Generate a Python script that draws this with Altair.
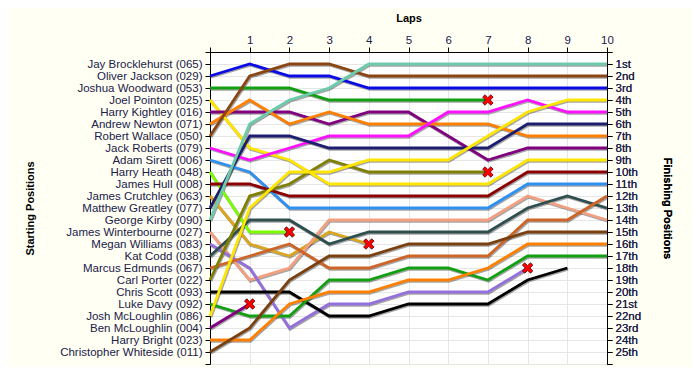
import json
import altair as alt
import pandas as pd

laps = list(range(11))

start_names = [
    "Jay Brocklehurst (065)", "Oliver Jackson (029)", "Joshua Woodward (053)",
    "Joel Pointon (025)", "Harry Kightley (016)", "Andrew Newton (071)",
    "Robert Wallace (050)", "Jack Roberts (079)", "Adam Sirett (006)",
    "Harry Heath (048)", "James Hull (008)", "James Crutchley (063)",
    "Matthew Greatley (077)", "George Kirby (090)", "James Winterbourne (027)",
    "Megan Williams (083)", "Kat Codd (038)", "Marcus Edmunds (067)",
    "Carl Porter (022)", "Chris Scott (093)", "Luke Davy (092)",
    "Josh McLoughlin (086)", "Ben McLoughlin (004)", "Harry Bright (023)",
    "Christopher Whiteside (011)",
]

finish_labels = [
    "1st", "2nd", "3rd", "4th", "5th", "6th", "7th", "8th", "9th", "10th",
    "11th", "12th", "13th", "14th", "15th", "16th", "17th", "18th", "19th",
    "20th", "21st", "22nd", "23rd", "24th", "25th",
]

# Position per lap (lap 0 = grid), one list per driver line
line_s02 = [2, 1, 2, 2, 3, 3, 3, 3, 3, 3, 3]
line_s03 = [3, 3, 3, 4, 4, 4, 4, 4]
line_s04 = [4, 8, 9, 11, 11, 11, 11, 11, 9, 9, 9]
line_s05 = [5, 5, 5, 6, 5, 5, 7, 9, 8, 8, 8]
line_s06 = [6, 4, 6, 5, 6, 6, 6, 6, 7, 7, 7]
line_s07 = [7, 2, 1, 1, 2, 2, 2, 2, 2, 2, 2]
line_s08 = [8, 9, 8, 7, 7, 7, 5, 5, 4, 5, 5]
line_s09 = [9, 10, 13, 13, 13, 13, 13, 13, 11, 11, 11]
line_s10 = [10, 15, 15]
line_s11 = [11, 11, 12, 12, 12, 12, 12, 12, 10, 10, 10]
line_s12 = [12, 16, 17, 15, 16]
line_s13 = [13, 7, 7, 8, 8, 8, 8, 8, 6, 6, 6]
line_s14 = [14, 6, 4, 3, 1, 1, 1, 1, 1, 1, 1]
line_s15 = [15, 19, 18, 14, 14, 14, 14, 14, 12, 13, 14]
line_s16 = [16, 18, 23, 21, 21, 20, 20, 20, 18]
line_s17 = [17, 14, 14, 16, 15, 15, 15, 15, 13, 12, 13]
line_s18 = [18, 17, 16, 18, 18, 17, 17, 17, 14, 14, 12]
line_s19 = [19, 12, 11, 9, 10, 10, 10, 10]
line_s20 = [20, 20, 20, 22, 22, 21, 21, 21, 19, 18]
line_s21 = [21, 22, 22, 19, 19, 18, 18, 19, 17, 17, 17]
line_s22 = [22, 13, 10, 10, 9, 9, 9, 7, 5, 4, 4]
line_s23 = [23, 21]
line_s24 = [24, 24, 21, 20, 20, 19, 19, 18, 16, 16, 16]
line_s25 = [25, 23, 19, 17, 17, 16, 16, 16, 15, 15, 15]

series = [line_s02, line_s03, line_s04, line_s05, line_s06, line_s07, line_s08,
          line_s09, line_s10, line_s11, line_s12, line_s13, line_s14, line_s15,
          line_s16, line_s17, line_s18, line_s19, line_s20, line_s21, line_s22,
          line_s23, line_s24, line_s25]

line_colors = [
    "#0A0AE6", "#12A012", "#FFE600", "#800080", "#FF8000", "#8B4513",
    "#FF10FF", "#2E90F0", "#7CFC00", "#8B0000", "#DAA520", "#1E1E70",
    "#6CCCAA", "#F4A080", "#9370DB", "#2F4F4F", "#CD6428", "#808000",
    "#000000", "#12A012", "#FFE600", "#800080", "#FF8000", "#7A4010",
]

retired = [False, True, False, False, False, False, False, False, True, False,
           True, False, False, False, True, False, False, True, False, False,
           False, True, False, False]

rows = []
marks = []
keys = []
for i, s in enumerate(series):
    key = f"d{i:02d}"
    keys.append(key)
    for lap, p in zip(laps, s):
        rows.append({"driver": key, "order": i, "lap": lap, "pos": p})
    if retired[i]:
        marks.append({"driver": key, "lap": len(s) - 1, "pos": s[-1]})

df = pd.DataFrame(rows)
dm = pd.DataFrame(marks)

label_font = "Liberation Sans"
label_color = "#20204A"

x_scale = alt.Scale(domain=[0, 10], nice=False, zero=False)
y_scale = alt.Scale(domain=[0, 26], reverse=True, nice=False, zero=False)

x_axis = alt.Axis(
    orient="top", values=laps,
    labelExpr="datum.value == 0 ? '' : datum.label",
    title="Laps", titleFont=label_font, titleFontSize=11, titleFontWeight="bold",
    titleColor="black", titleX=198.5, titleY=-34, titleAlign="center",
    titleBaseline="middle",
    grid=True, gridColor="#E6E6E6", domainColor="black", tickColor="black",
    tickSize=5, labelPadding=2, labelFont=label_font, labelFontSize=11.5,
    labelColor=label_color, labelFlush=False, labelOverlap=False,
)

left_axis = alt.Axis(
    orient="left", values=list(range(27)),
    labelExpr="datum.value >= 1 && datum.value <= 25 ? " + json.dumps(start_names) + "[datum.value - 1] : ''",
    title="Starting Positions", titleFont=label_font, titleFontSize=11,
    titleFontWeight="bold", titleColor="black", titleAngle=270,
    titleX=-180, titleY=156, titleAlign="center", titleBaseline="middle",
    grid=True, gridColor="#E6E6E6", domainColor="black", tickColor="black",
    tickSize=5, labelPadding=3, labelFont=label_font, labelFontSize=11.5,
    labelColor=label_color, labelFlush=False, labelOverlap=False,
)

right_axis = alt.Axis(
    orient="right", values=list(range(27)),
    labelExpr="datum.value >= 1 && datum.value <= 25 ? " + json.dumps(finish_labels) + "[datum.value - 1] : ''",
    title="Finishing Positions", titleFont=label_font, titleFontSize=11,
    titleFontWeight="bold", titleColor="black", titleAngle=90,
    titleX=59, titleY=156, titleAlign="center", titleBaseline="middle",
    grid=False, domainColor="black", tickColor="black",
    tickSize=5, labelPadding=3, labelFont=label_font, labelFontSize=11.5,
    labelColor=label_color, labelFlush=False, labelOverlap=False,
)

color_scale = alt.Scale(domain=keys, range=line_colors)

shadow = alt.Chart(df).transform_calculate(
    pos_s="datum.pos + 0.09", lap_s="datum.lap + 0.02"
).mark_line(color="#000000", opacity=0.35, strokeWidth=3.2).encode(
    x=alt.X("lap_s:Q", scale=x_scale, axis=x_axis),
    y=alt.Y("pos_s:Q", scale=y_scale, axis=left_axis),
    detail="driver:N",
    order="lap:Q",
)

lines = alt.Chart(df).mark_line(strokeWidth=2.8).encode(
    x=alt.X("lap:Q", scale=x_scale, axis=x_axis),
    y=alt.Y("pos:Q", scale=y_scale, axis=right_axis),
    color=alt.Color("driver:N", scale=color_scale, legend=None),
    detail="driver:N",
    order="lap:Q",
)

x_path = "M-1,-0.55L-0.55,-1L0,-0.45L0.55,-1L1,-0.55L0.45,0L1,0.55L0.55,1L0,0.45L-0.55,1L-1,0.55L-0.45,0Z"

crosses = alt.Chart(dm).mark_point(
    shape=x_path, size=110, filled=True, fill="#FF0000", stroke="#500000",
    strokeWidth=0.8, opacity=1,
).encode(
    x=alt.X("lap:Q", scale=x_scale, axis=x_axis),
    y=alt.Y("pos:Q", scale=y_scale, axis=right_axis),
)

chart = alt.layer(shadow, lines, crosses).resolve_axis(y="independent").properties(
    width=397, height=312,
    autosize=alt.AutoSizeParams(type="none"),
    padding={"left": 202, "top": 44, "right": 85, "bottom": 3},
    background="#FFFFF4",
).configure_view(stroke=None, fill="white")

chart.save("out.html", embed_options={"renderer": "svg", "actions": False})
